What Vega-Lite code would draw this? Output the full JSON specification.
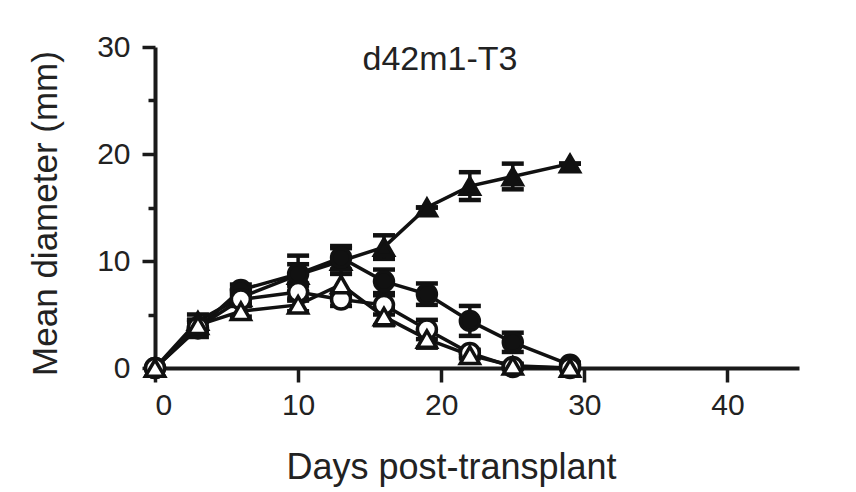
{
  "$schema": "https://vega.github.io/schema/vega-lite/v6.json",
  "autosize": "none",
  "width": 644,
  "height": 321,
  "padding": {"left": 155, "top": 47, "right": 57, "bottom": 124},
  "background": "white",
  "title": {
    "text": "d42m1-T3",
    "font": "Liberation Sans",
    "fontSize": 34,
    "fontWeight": "normal",
    "color": "#222",
    "anchor": "middle",
    "frame": "group",
    "dx": -37,
    "dy": 46,
    "offset": -26,
    "baseline": "alphabetic"
  },
  "data": {
    "values": [
      {"day": 0, "series": "FT", "mean": 0, "err": 0},
      {"day": 3, "series": "FT", "mean": 4.4, "err": 0.6},
      {"day": 6, "series": "FT", "mean": 6.6, "err": 0.6},
      {"day": 10, "series": "FT", "mean": 8.7, "err": 1.0},
      {"day": 13, "series": "FT", "mean": 10.0, "err": 1.2},
      {"day": 16, "series": "FT", "mean": 11.3, "err": 1.1},
      {"day": 19, "series": "FT", "mean": 15.0, "err": 0},
      {"day": 22, "series": "FT", "mean": 17.0, "err": 1.3},
      {"day": 25, "series": "FT", "mean": 17.9, "err": 1.2},
      {"day": 29, "series": "FT", "mean": 19.1, "err": 0},
      {"day": 0, "series": "FC", "mean": 0, "err": 0},
      {"day": 3, "series": "FC", "mean": 3.7, "err": 0.8},
      {"day": 6, "series": "FC", "mean": 7.3, "err": 0.5},
      {"day": 10, "series": "FC", "mean": 8.8, "err": 1.7},
      {"day": 13, "series": "FC", "mean": 10.3, "err": 1.1},
      {"day": 16, "series": "FC", "mean": 8.1, "err": 1.1},
      {"day": 19, "series": "FC", "mean": 6.9, "err": 1.0},
      {"day": 22, "series": "FC", "mean": 4.4, "err": 1.4},
      {"day": 25, "series": "FC", "mean": 2.4, "err": 0.9},
      {"day": 29, "series": "FC", "mean": 0.3, "err": 0.2},
      {"day": 0, "series": "OC", "mean": 0, "err": 0},
      {"day": 3, "series": "OC", "mean": 3.8, "err": 0.5},
      {"day": 6, "series": "OC", "mean": 6.4, "err": 0.5},
      {"day": 10, "series": "OC", "mean": 7.1, "err": 0.8},
      {"day": 13, "series": "OC", "mean": 6.4, "err": 0.6},
      {"day": 16, "series": "OC", "mean": 5.9, "err": 0.9},
      {"day": 19, "series": "OC", "mean": 3.6, "err": 0.9},
      {"day": 22, "series": "OC", "mean": 1.4, "err": 0.3},
      {"day": 25, "series": "OC", "mean": 0.1, "err": 0.2},
      {"day": 29, "series": "OC", "mean": 0, "err": 0},
      {"day": 0, "series": "OT", "mean": 0, "err": 0},
      {"day": 3, "series": "OT", "mean": 4.0, "err": 0.5},
      {"day": 6, "series": "OT", "mean": 5.3, "err": 0.5},
      {"day": 10, "series": "OT", "mean": 5.9, "err": 0.6},
      {"day": 13, "series": "OT", "mean": 7.8, "err": 1.0},
      {"day": 16, "series": "OT", "mean": 4.8, "err": 0.8},
      {"day": 19, "series": "OT", "mean": 2.7, "err": 0.8},
      {"day": 22, "series": "OT", "mean": 1.2, "err": 0.3},
      {"day": 25, "series": "OT", "mean": 0.2, "err": 0.2},
      {"day": 29, "series": "OT", "mean": 0, "err": 0}
    ]
  },
  "encoding": {
    "x": {
      "field": "day",
      "type": "quantitative",
      "scale": {"domain": [0, 45], "nice": false, "zero": false},
      "axis": {
        "values": [0, 10, 20, 30, 40],
        "tickSize": 14,
        "labelPadding": 8,
        "title": "Days post-transplant",
        "titleX": 296,
        "titleY": 110,
        "titleFontSize": 36,
        "titleBaseline": "alphabetic",
        "titleAlign": "center"
      }
    },
    "y": {
      "field": "mean",
      "type": "quantitative",
      "scale": {"domain": [0, 30], "nice": false},
      "axis": {
        "values": [0, 5, 10, 15, 20, 25, 30],
        "labelExpr": "datum.value % 10 === 0 ? datum.label : ''",
        "tickSize": {"condition": {"test": "datum.value % 10 !== 0", "value": 7}, "value": 13},
        "labelPadding": 12,
        "title": "Mean diameter (mm)",
        "titleX": -110,
        "titleY": 166,
        "titleAngle": -90,
        "titleBaseline": "middle",
        "titleAlign": "center"
      }
    }
  },
  "layer": [
    {
      "mark": {"type": "line", "color": "#111", "strokeWidth": 3.5},
      "encoding": {"detail": {"field": "series"}}
    },
    {
      "mark": {
        "type": "errorbar",
        "color": "#111",
        "opacity": 1,
        "rule": {"strokeWidth": 3.5, "opacity": 1, "color": "#111"},
        "ticks": {"size": 22, "thickness": 4.5, "color": "#111", "opacity": 1}
      },
      "encoding": {
        "yError": {"field": "err"},
        "detail": {"field": "series"}
      }
    },
    {
      "mark": {"type": "point", "size": 360, "stroke": "#111", "strokeWidth": 3.5, "opacity": 1, "filled": false},
      "encoding": {
        "shape": {
          "field": "series",
          "type": "nominal",
          "scale": {"domain": ["FT", "FC", "OC", "OT"], "range": ["triangle-up", "circle", "circle", "triangle-up"]},
          "legend": null
        },
        "fill": {
          "field": "series",
          "type": "nominal",
          "scale": {"domain": ["FT", "FC", "OC", "OT"], "range": ["#111", "#111", "white", "white"]},
          "legend": null
        }
      }
    }
  ],
  "config": {
    "view": {"stroke": null},
    "font": "Liberation Sans",
    "axis": {
      "grid": false,
      "domainColor": "#1a1a1a",
      "domainWidth": 4,
      "tickColor": "#1a1a1a",
      "tickWidth": 3.5,
      "labelFont": "Liberation Sans",
      "labelFontSize": 30,
      "labelColor": "#222",
      "titleFont": "Liberation Sans",
      "titleFontSize": 35,
      "titleFontWeight": "normal",
      "titleColor": "#222"
    }
  }
}
